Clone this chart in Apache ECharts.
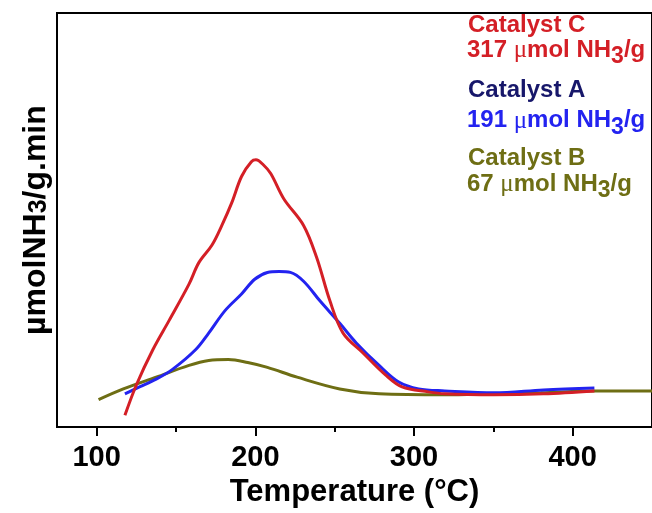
<!DOCTYPE html>
<html>
<head>
<meta charset="utf-8">
<script src="https://cdn.jsdelivr.net/npm/echarts@6/dist/echarts.min.js"></script>
<style>
html,body{margin:0;padding:0;background:#fff;}
#chart{width:652px;height:513px;}
</style>
</head>
<body>
<div id="chart"></div>
<script>
// ---- data (temperature °C, NH3 desorption signal in arbitrary units) ----
var xMajorTicks = [100, 200, 300, 400];
var xMinorTicks = [150, 250, 350];
var seriesNames = ['Catalyst C', 'Catalyst A', 'Catalyst B'];
var labelValues = ['317', '191', '67'];

var catalystC = [[117.8,12],[125,43],[135.4,79],[145.7,109],[158.2,146],[164.4,168],[172.7,186],[178.9,206],[185.1,229],[191.3,256],[197.5,271],[200.4,273],[205,268],[209.7,259],[218,233],[230.4,206],[238.7,173],[247,129],[255.3,96],[267.7,76],[282.2,53],[292.5,41],[309.1,36],[319.4,34],[350.5,33],[381.6,34],[413.7,37]];
var catalystA = [[117.8,34],[127,41],[137.5,49],[147.8,59],[162.3,79],[170.6,96],[180.9,119],[191.3,136],[199.6,151],[207.6,158],[215,159],[222.1,158],[230.4,149],[240.7,129],[253.2,106],[263.6,86],[278,63],[290.4,46],[302.9,39],[319.4,37],[350.5,35],[381.6,38],[413.7,40]];
var catalystB = [[101.2,28],[116.8,39],[137.5,51],[158.2,63],[170.6,68],[183,69],[195.2,66],[207.6,61],[226.3,51],[253.2,39],[278,34],[319.4,33],[350,34],[380,35],[413.7,37],[450,37]];

var RED = '#d41f26', BLUE = '#2323f0', OLIVE = '#6e6e14', NAVY = '#17176a';
var FONT = '"Liberation Sans", Arial, sans-serif';

function amountText(v) {
  return '{n|' + v + ' }{mu|\u03bc}{n|mol NH}{sub|3}{n|/g}';
}
function amountRich() {
  return {
    n: {fontSize: 24, fontWeight: 'bold', fontFamily: FONT, lineHeight: 24, verticalAlign: 'top'},
    mu: {fontSize: 25, fontWeight: 'normal', fontFamily: '"Liberation Serif", serif', lineHeight: 24, verticalAlign: 'top'},
    sub: {fontSize: 23, fontWeight: 'bold', fontFamily: FONT, lineHeight: 38}
  };
}
function labelPair(name, nameColor, y1, value, valColor, y2) {
  var rich = amountRich();
  ['n','mu','sub'].forEach(function(k){ rich[k].fill = valColor; rich[k].color = valColor; });
  return [
    {type: 'text', x: 468, y: y1, style: {text: name, fill: nameColor, font: 'bold 24px ' + FONT, align: 'left', verticalAlign: 'middle'}},
    {type: 'text', x: 467, y: y2, style: {text: amountText(value), fill: valColor, rich: rich, align: 'left', verticalAlign: 'top'}}
  ];
}

var chart = echarts.init(document.getElementById('chart'), null, {renderer: 'canvas'});
var lineSeries = function (name, data, color) {
  return {
    name: name, type: 'line', data: data, smooth: 0.35, showSymbol: false, symbol: 'none',
    lineStyle: {color: color, width: 3}, itemStyle: {color: color}, z: 3
  };
};

chart.setOption({
  animation: false,
  backgroundColor: '#fff',
  grid: {left: 57, right: -9, top: 13, bottom: 77, show: true, borderColor: '#000', borderWidth: 2, containLabel: false},
  xAxis: [{
    type: 'value', min: 75, max: 450, position: 'bottom',
    name: 'Temperature (°C)', nameLocation: 'middle', nameGap: 44,
    nameTextStyle: {fontSize: 31, fontWeight: 'bold', fontFamily: FONT, color: '#000'},
    axisLine: {show: true, lineStyle: {color: '#000', width: 2}},
    axisTick: {show: true, customValues: xMajorTicks, length: 9, inside: false, lineStyle: {color: '#000', width: 2}},
    axisLabel: {show: true, customValues: xMajorTicks, margin: 16, fontSize: 29, fontWeight: 'bold', fontFamily: FONT, color: '#000'},
    splitLine: {show: false}
  }, {
    type: 'value', min: 75, max: 450, position: 'bottom', gridIndex: 0,
    axisLine: {show: false},
    axisTick: {show: true, customValues: xMinorTicks, length: 5, lineStyle: {color: '#000', width: 2}},
    axisLabel: {show: false},
    splitLine: {show: false}
  }],
  yAxis: {
    type: 'value', min: 0, max: 423,
    name: '{n|\u00b5molNH}{sub|3}{n|/g.min}', nameLocation: 'middle', nameGap: 5,
    nameTextStyle: {
      color: '#000',
      rich: {
        n: {fontSize: 32, fontWeight: 'bold', fontFamily: FONT, color: '#000', lineHeight: 32, verticalAlign: 'bottom'},
        sub: {fontSize: 25, fontWeight: 'bold', fontFamily: FONT, color: '#000', lineHeight: 24, verticalAlign: 'bottom'}
      }
    },
    axisLine: {show: true, lineStyle: {color: '#000', width: 2}},
    axisTick: {show: false}, axisLabel: {show: false}, splitLine: {show: false}
  },
  series: [
    lineSeries(seriesNames[2], catalystB, OLIVE),
    lineSeries(seriesNames[1], catalystA, BLUE),
    lineSeries(seriesNames[0], catalystC, RED)
  ],
  graphic: [].concat(
    labelPair(seriesNames[0], RED, 25, labelValues[0], RED, 38),
    labelPair(seriesNames[1], NAVY, 90, labelValues[1], BLUE, 108.5),
    labelPair(seriesNames[2], OLIVE, 158.5, labelValues[2], OLIVE, 172)
  )
});
</script>
</body>
</html>
